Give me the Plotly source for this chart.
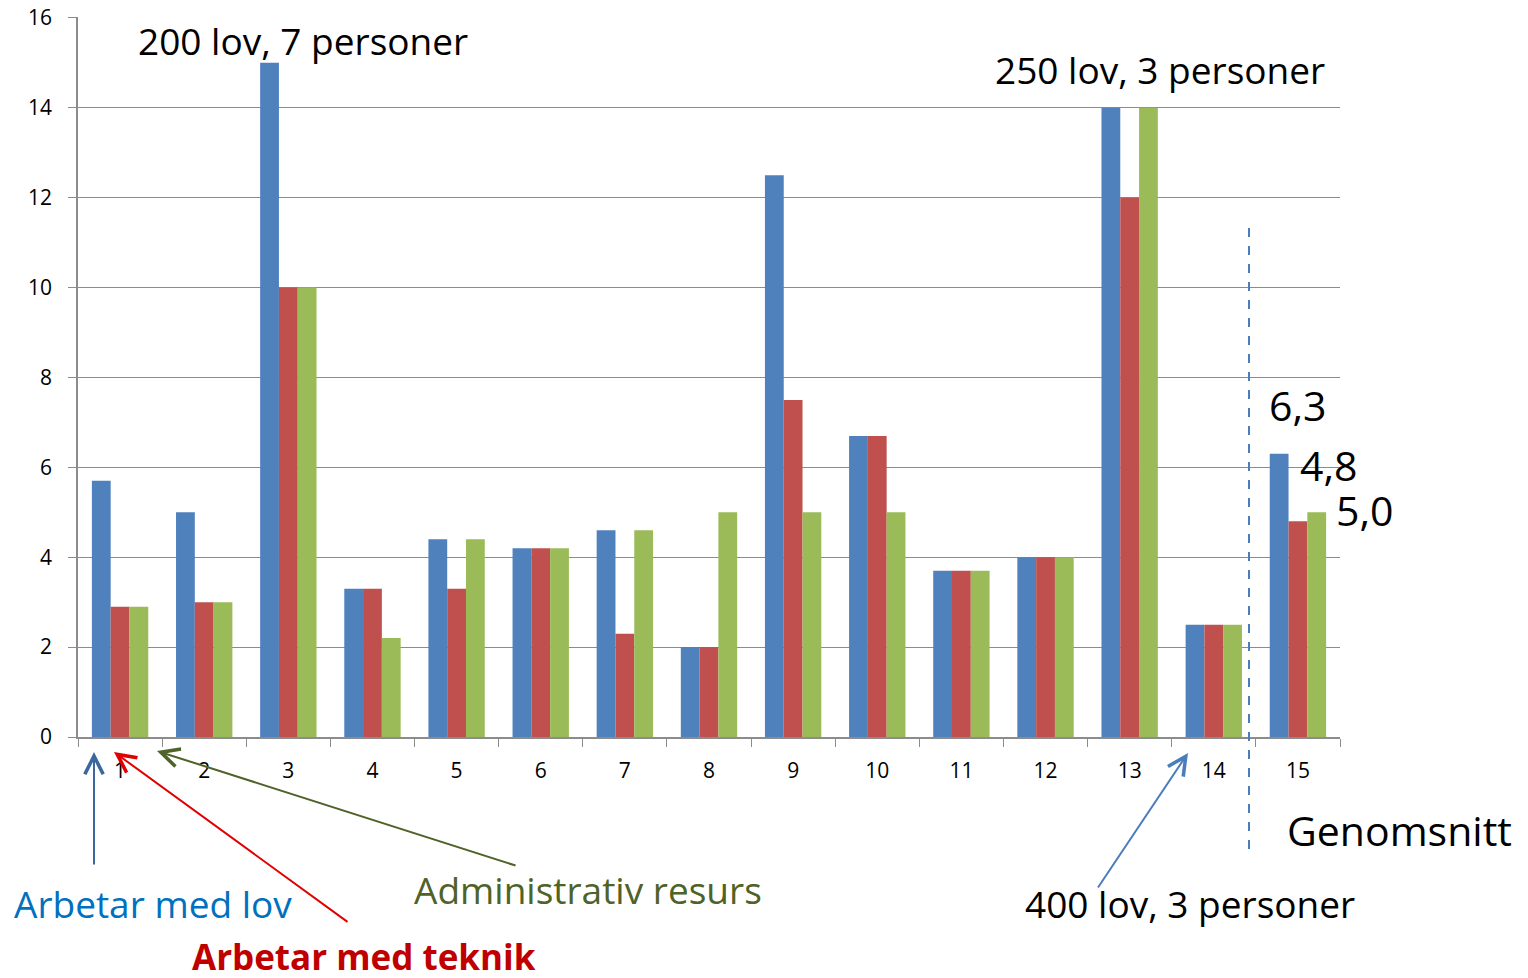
import plotly.graph_objects as go

categories = [str(i) for i in range(1, 16)]
arbetar_lov = [5.7, 5.0, 15.0, 3.3, 4.4, 4.2, 4.6, 2.0, 12.5, 6.7, 3.7, 4.0, 14.0, 2.5, 6.3]
arbetar_teknik = [2.9, 3.0, 10.0, 3.3, 3.3, 4.2, 2.3, 2.0, 7.5, 6.7, 3.7, 4.0, 12.0, 2.5, 4.8]
admin_resurs = [2.9, 3.0, 10.0, 2.2, 4.4, 4.2, 4.6, 5.0, 5.0, 5.0, 3.7, 4.0, 14.0, 2.5, 5.0]
y_ticks = [0, 2, 4, 6, 8, 10, 12, 14, 16]

FONT = "Open Sans"
GRID = "#8C8C8C"

# the page body has an 8px margin, so the figure is 8px smaller than the window
PAGE = 8
W, H = 1528 - PAGE, 978 - PAGE
# plot area in window pixels (left, right, top, bottom)
L, R, T, B = 78, 1340, 17, 737


def px(x, y):
    """window pixel position -> paper coordinates"""
    return (x - L) / (R - L), (B - y) / (B - T)


fig = go.Figure()
for name, vals, color in [
    ("Arbetar med lov", arbetar_lov, "#4F81BD"),
    ("Arbetar med teknik", arbetar_teknik, "#C0504D"),
    ("Administrativ resurs", admin_resurs, "#9BBB59"),
]:
    fig.add_trace(go.Bar(x=categories, y=vals, name=name, marker_color=color,
                         marker_line_width=0))


def label(text, x, y, size=37, color="black", bold=False):
    if bold:
        text = f"<b>{text}</b>"
    xp, yp = px(x, y)
    fig.add_annotation(x=xp, y=yp, xref="paper", yref="paper", text=text,
                       xanchor="center", yanchor="middle", showarrow=False,
                       font=dict(family=FONT, size=size, color=color))


def arrow(x0, y0, x1, y1, color):
    # tail (x0, y0) -> head (x1, y1), in pixels
    xp, yp = px(x1, y1)
    fig.add_annotation(x=xp, y=yp, xref="paper", yref="paper", ax=x0 - x1, ay=y0 - y1,
                       text="", showarrow=True, arrowhead=5, arrowsize=1.8,
                       arrowwidth=2, arrowcolor=color)


label("200 lov, 7 personer", 303, 40)
label("250 lov, 3 personer", 1160, 70)
label("6,3", 1298, 405, size=41)
label("4,8", 1329, 465, size=41)
label("5,0", 1365, 510, size=41)
label("Genomsnitt", 1399, 830, size=41)
label("400 lov, 3 personer", 1190, 903)
label("Arbetar med lov", 153, 903, color="#0070C0")
label("Administrativ resurs", 588, 890, color="#4F6228")
label("Arbetar med teknik", 364, 956, size=35, color="#C00000", bold=True)

arrow(94, 866, 94, 752, "#3B679E")
arrow(349, 923, 114, 752, "#E00000")
arrow(517, 866, 157, 751, "#4F6228")
arrow(1097, 889, 1188, 753, "#4A7EBB")

x0, y0 = px(1249, 228)
_, y1 = px(1249, 852)
fig.add_shape(type="line", xref="paper", yref="paper", x0=x0, x1=x0, y0=y0, y1=y1,
              line=dict(color="#4A7EBB", width=2, dash="dash"))

fig.update_layout(
    width=W, height=H,
    margin=dict(l=L - PAGE, r=W - (R - PAGE), t=T - PAGE, b=H - (B - PAGE),
                autoexpand=False),
    barmode="group", bargap=0.33, bargroupgap=0,
    plot_bgcolor="white", paper_bgcolor="white",
    showlegend=False,
    font=dict(family=FONT, size=21, color="black"),
)
fig.update_xaxes(type="category", range=[-0.5, 14.5], tickson="boundaries",
                 ticks="outside", ticklen=8, tickcolor=GRID, showline=True,
                 linecolor=GRID, linewidth=1.5, showgrid=False, automargin=False,
                 tickfont=dict(size=21), ticklabelstandoff=14)
fig.update_yaxes(range=[0, 16.02], tickvals=y_ticks, ticks="outside", ticklen=8,
                 tickcolor=GRID, showline=True, linecolor=GRID, linewidth=1.5,
                 gridcolor=GRID, gridwidth=1.3, zeroline=False, automargin=False,
                 ticklabeloverflow="allow",
                 tickfont=dict(size=21), ticklabelstandoff=12)

fig.write_html("out.html")
